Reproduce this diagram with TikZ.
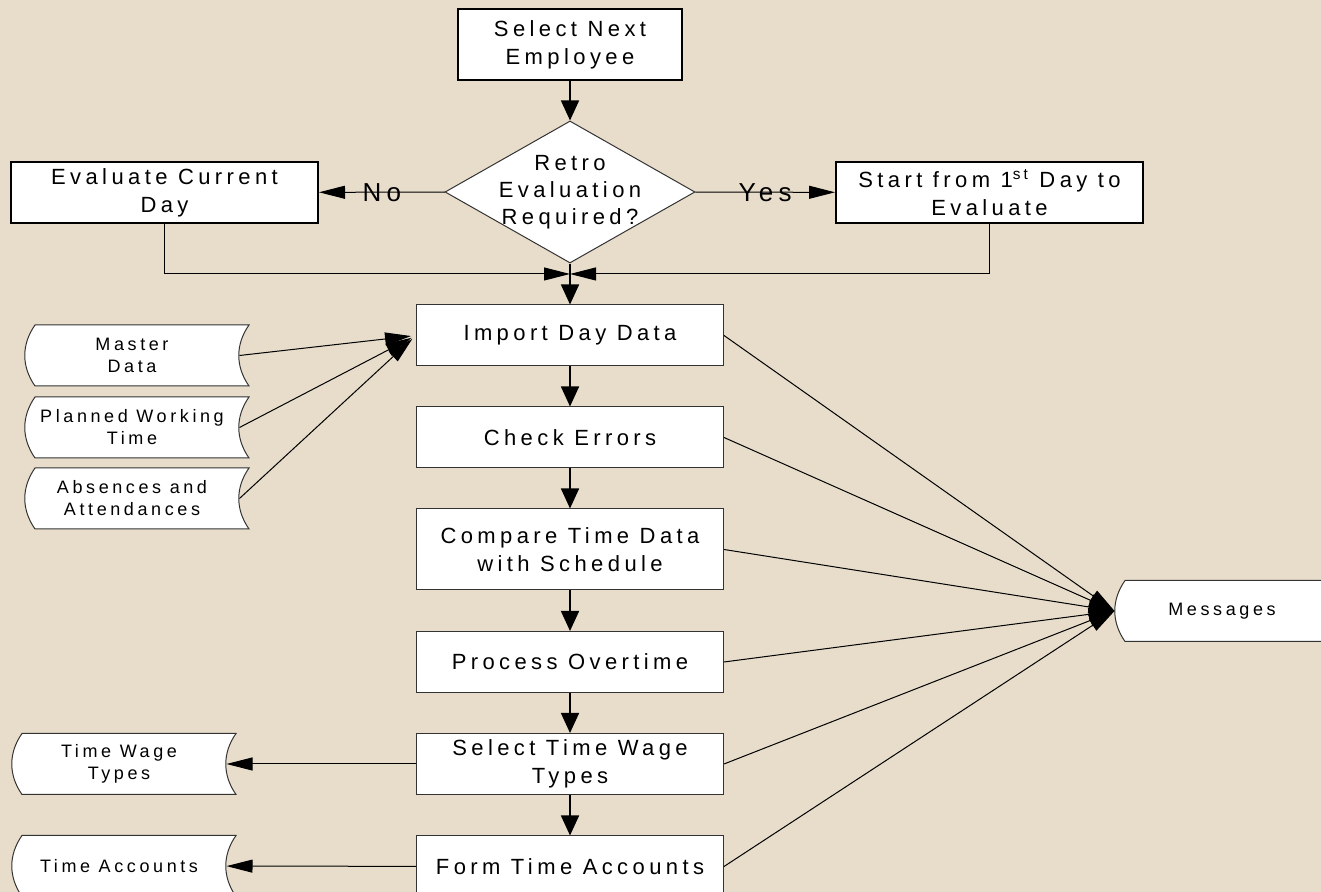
\documentclass[tikz,border=0pt]{standalone}
\usepackage{fontspec}
\setmainfont{Liberation Sans}[LetterSpace=20]
\usetikzlibrary{arrows.meta,shapes.geometric}
\definecolor{paper}{HTML}{E8DDCB}

\begin{document}
\begin{tikzpicture}[
  x=0.5pt, y=0.5pt,
  box/.style={
    draw=black!80,
    fill=white,
    line width=0.5pt,
    align=center,
    inner sep=0pt,
    minimum width=153.5pt,
    minimum height=30.5pt,
    font=\fontsize{11}{14}\selectfont
  },
  topbox/.style={
    box,
    draw=black,
    line width=1pt
  },
  decision/.style={
    diamond,
    draw=black!80,
    fill=white,
    line width=0.5pt,
    aspect=1.76,
    inner sep=-2pt,
    minimum width=125pt,
    minimum height=71pt,
    align=center,
    font=\fontsize{11}{13.5}\selectfont
  },
  store/.style={
    draw=black!80,
    fill=white,
    line width=0.5pt
  },
  storeshape/.style={
    insert path={++(-97,30.5) to[bend right=35] ++(0,-61)
      -- ++(214,0) to[bend left=35] ++(0,61) -- cycle}
  },
  storetxt/.style={
    align=center,
    inner sep=0pt,
    minimum width=107pt,
    minimum height=30.5pt,
    font=\fontsize{9}{11}\selectfont
  },
  yesno/.style={
    font=\fontsize{13}{15}\selectfont
  },
  varr/.style={
    -{Triangle[length=10pt,width=9pt]},
    line width=0.8pt
  },
  harr/.style={
    -{Triangle[length=13pt,width=6.5pt]},
    line width=0.5pt
  }
]

\useasboundingbox (0,0) rectangle (1321,892);
\fill[paper] (0,0) rectangle (1321,892);

% Selection and retro decision
\node[topbox, minimum width=112pt, minimum height=35.5pt] (next) at (570,847.5)
  {Select Next\\Employee};
\node[decision] (retro) at (570,700) {Retro\\Evaluation\\Required?};
\node[topbox] (curday) at (164.5,699.5) {Evaluate Current\\Day};
\node[topbox] (firstday) at (989.5,699.5)
  {Start from 1\textsuperscript{st} Day to\\Evaluate};
\coordinate (join) at (570,618);

% Day processing steps
\node[box] (import) at (570,556.5) {Import Day Data};
\node[box] (check) at (570,454.5) {Check Errors};
\node[box, minimum height=40.5pt] (compare) at (570,342.5)
  {Compare Time Data\\with Schedule};
\node[box] (overtime) at (570,230) {Process Overtime};
\node[box] (wage) at (570,128) {Select Time Wage\\Types};
\node[box] (accounts) at (570,25.5) {Form Time Accounts};

% Stored data
\draw[store] (132,536.5) node[storetxt] (master) {Master\\Data} [storeshape];
\draw[store] (132,464.5) node[storetxt] (planned) {Planned Working\\Time} [storeshape];
\draw[store] (132,393.5) node[storetxt] (absences) {Absences and\\Attendances} [storeshape];
\draw[store] (119,128) node[storetxt] (tw) {Time Wage\\Types} [storeshape];
\draw[store] (119,26) node[storetxt] (ta) {Time Accounts} [storeshape];
\draw[store] (1222,281) node[storetxt] (msg) {Messages} [storeshape];

% Decision arrows
\draw[varr] (next) -- (retro);
\draw[harr] (retro) -- node[yesno] {No} (curday);
\draw[harr] (retro) -- node[yesno] {Yes} (firstday);
\draw[harr] (curday.south) |- (join);
\draw[harr] (firstday.south) |- (join);

% Main flow
\draw[varr] (retro) -- (import);
\draw[varr] (import) -- (check);
\draw[varr] (check) -- (compare);
\draw[varr] (compare) -- (overtime);
\draw[varr] (overtime) -- (wage);
\draw[varr] (wage) -- (accounts);

% Data in and out
\foreach \s in {master,planned,absences}
  \draw[harr, shorten >=2.5pt] (\s.east) -- (import.west);
\draw[harr] (wage) -- (tw);
\draw[harr] (accounts) -- (ta);
\foreach \s in {import,check,compare,overtime,wage,accounts}
  \draw[harr] (\s.east) -- (msg.west);

\end{tikzpicture}
\end{document}
